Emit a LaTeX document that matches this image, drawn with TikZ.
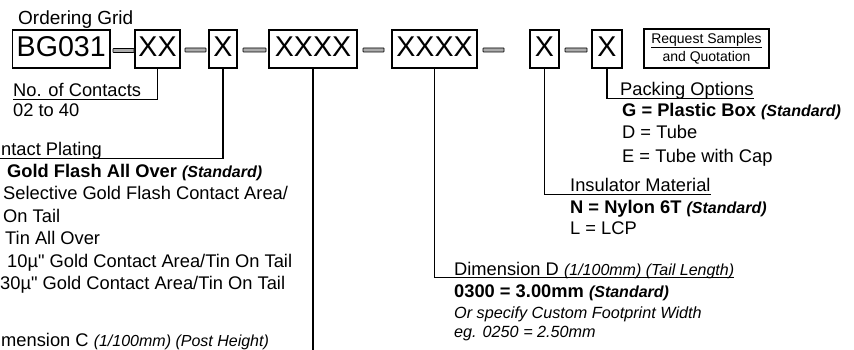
\documentclass[tikz,border=0pt]{standalone}
\usepackage{fontspec}
\setmainfont{Liberation Sans}[Ligatures=TeXOff]
\newcommand{\stdnote}{{\fontsize{16}{18}\selectfont\bfseries\itshape (Standard)}}
\newcommand{\smit}[1]{{\fontsize{16}{18}\selectfont\itshape #1}}
\begin{document}
\begin{tikzpicture}[x=1pt,y=-1pt,
  gridbox/.style={draw, line width=1.3pt, minimum height=38pt, inner sep=0pt,
    font=\fontsize{28.6}{30}\selectfont, text height=20pt, text depth=4pt},
  dashbar/.style={draw, fill=gray!65, line width=0.7pt, minimum height=4pt,
    inner sep=0pt, rounded corners=0.5pt, anchor=west},
  conn/.style={line width=1.3pt},
  lbl/.style={anchor=base west, inner xsep=0pt, inner ysep=0pt,
    font=\fontsize{18.3}{22}\selectfont},
  hdr/.style={lbl, inner ysep=2.5pt, text depth=0pt},
]
\useasboundingbox (0,0) rectangle (854,350);
\fill[white] (0,0) rectangle (854,350);
\clip (0,0) rectangle (854,350);

% ordering grid boxes
\node[lbl, font=\fontsize{19}{22}\selectfont] (title) at (18,25) {Ordering Grid};
\node[gridbox, minimum width=97.5pt] (bg) at (61.25,49) {BG031};
\node[gridbox, minimum width=45pt] (xx) at (157.5,49) {XX};
\node[gridbox, minimum width=28pt] (xa) at (223,49) {X};
\node[gridbox, minimum width=88pt] (xxxxa) at (313,49) {XXXX};
\node[gridbox, minimum width=85pt] (xxxxb) at (434.5,49) {XXXX};
\node[gridbox, minimum width=29pt] (xb) at (544.5,49) {X};
\node[gridbox, minimum width=30pt] (xc) at (607,49) {X};

% dashes
\node[dashbar, minimum width=21pt] (d1) at ([xshift=2pt,yshift=-1.5pt]bg.east) {};
\node[dashbar, minimum width=21pt] (d2) at ([xshift=4pt,yshift=-1pt]xx.east) {};
\node[dashbar, minimum width=23pt] (d3) at ([xshift=5pt,yshift=-1pt]xa.east) {};
\node[dashbar, minimum width=21pt] (d4) at ([xshift=5pt,yshift=-1pt]xxxxa.east) {};
\node[dashbar, minimum width=21pt] (d5) at ([xshift=5pt,yshift=-1pt]xxxxb.east) {};
\node[dashbar, minimum width=22pt] (d6) at ([xshift=5pt,yshift=-1pt]xb.east) {};

% request box
\node[draw, line width=1.6pt, minimum width=125pt, minimum height=39pt, inner sep=0pt,
  align=center, font=\fontsize{14}{18}\selectfont] (req) at (706.5,48.5)
  {\underline{Request Samples}\\and Quotation};

% No. of contacts
\node[hdr] (contacts) at (13,97) {No. of Contacts};
\node[lbl] (contactsv) at (13,117) {02 to 40};

% Contact plating (text cut at the left edge in the reference)
\node[hdr] (plating) at (1,156) {ntact Plating};
\node[lbl] (pl1) at (7,177) {\textbf{Gold Flash All Over} \stdnote};
\node[lbl] (pl2) at (3,199) {Selective Gold Flash Contact Area/};
\node[lbl] (pl3) at (3,222) {On Tail};
\node[lbl] (pl4) at (5,244) {Tin All Over};
\node[lbl] (pl5) at (7,267) {10µ" Gold Contact Area/Tin On Tail};
\node[lbl] (pl6) at (0,289) {30µ" Gold Contact Area/Tin On Tail};

% Dimension C
\node[hdr, inner ysep=7pt] (dimc) at (1,346) {mension C \smit{(1/100mm) (Post Height)}};

% Dimension D
\node[hdr] (dimd) at (454,275) {Dimension D \smit{(1/100mm) (Tail Length)}};
\node[lbl] (dd1) at (454,297) {\textbf{0300 = 3.00mm} \stdnote};
\node[lbl, font=\fontsize{16.2}{18}\selectfont\itshape] (dd2) at (454,318) {Or specify Custom Footprint Width};
\node[lbl, font=\fontsize{16.2}{18}\selectfont\itshape] (dd3) at (454,337) {eg. 0250 = 2.50mm};

% Insulator material
\node[hdr, inner ysep=3pt] (insul) at (570,191) {Insulator Material};
\node[lbl] (in1) at (570,213) {\textbf{N = Nylon 6T} \stdnote};
\node[lbl] (in2) at (570,234) {L = LCP};

% Packing options
\node[hdr] (packing) at (620,96) {Packing Options};
\node[lbl] (pk1) at (622,117) {\textbf{G = Plastic Box} \stdnote};
\node[lbl] (pk2) at (622,139) {D = Tube};
\node[lbl] (pk3) at (622,162) {E = Tube with Cap};

% connectors
\draw[conn] (xx.south) |- (contacts.south west);
\draw[conn] (xa.south) -- (xa.south |- plating.south) -- ([xshift=-2pt]plating.south west);
\draw[conn] (xxxxa.south) |- (dimc.south west);
\draw[conn] (xxxxb.south) |- (dimd.south east);
\draw[conn] (xb.south) |- (insul.south east);
\draw[conn] (xc.south) |- (packing.south east);
\end{tikzpicture}
\end{document}
